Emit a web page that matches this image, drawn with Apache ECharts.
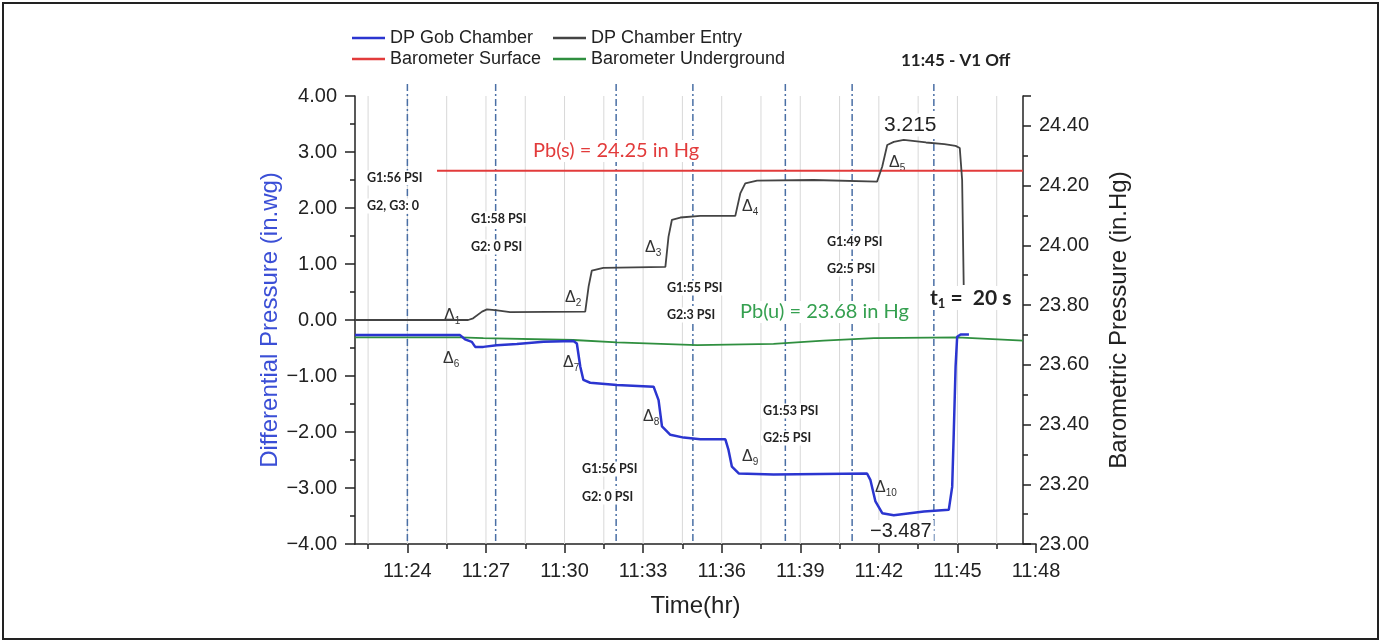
<!DOCTYPE html>
<html>
<head>
<meta charset="utf-8">
<script src="https://cdn.jsdelivr.net/npm/echarts@6/dist/echarts.min.js"></script>
<style>
html,body{margin:0;padding:0;background:#fff;}
#chart{width:1381px;height:641px;}
</style>
</head>
<body>
<div id="chart"></div>
<script>
// time is in minutes after 11:00
var entryTime = [22.0, 26.32, 26.51, 26.85, 27.04, 27.43, 27.92, 30.79, 30.92, 31.04, 31.48, 33.85, 33.97, 34.10, 34.42, 35.18, 36.52, 36.71, 36.90, 37.35, 39.5, 41.93, 42.13, 42.32, 42.57, 42.95, 43.8, 44.5, 44.93, 45.09, 45.18, 45.24]
var entryDP   = [0.0, 0.0, 0.03, 0.15, 0.19, 0.17, 0.14, 0.15, 0.6, 0.88, 0.93, 0.95, 1.49, 1.79, 1.83, 1.86, 1.86, 2.26, 2.44, 2.49, 2.5, 2.47, 2.74, 3.125, 3.18, 3.215, 3.17, 3.14, 3.11, 3.07, 2.5, 0.625]

var gobTime = [22.0, 26.01, 26.20, 26.46, 26.59, 26.90, 27.41, 28.18, 29.20, 30.34, 30.47, 30.60, 30.72, 30.98, 32.00, 33.40, 33.59, 33.72, 34.04, 34.55, 35.18, 36.14, 36.26, 36.39, 36.65, 37.98, 41.55, 41.68, 41.87, 42.13, 42.57, 43.72, 44.67, 44.80, 44.86, 44.93, 44.99, 45.12, 45.44]
var gobDP   = [-0.27, -0.27, -0.345, -0.39, -0.48, -0.48, -0.45, -0.43, -0.39, -0.375, -0.42, -0.83, -1.07, -1.12, -1.16, -1.19, -1.43, -1.9, -2.05, -2.10, -2.13, -2.13, -2.32, -2.62, -2.74, -2.76, -2.74, -2.86, -3.24, -3.45, -3.487, -3.42, -3.39, -2.98, -2.02, -0.83, -0.30, -0.26, -0.26]

var underTime = [22.0, 26.01, 26.9, 30.34, 32.0, 35.06, 37.98, 39.89, 41.81, 44.99, 47.5]
var underBaro = [23.692, 23.692, 23.689, 23.683, 23.675, 23.666, 23.670, 23.681, 23.689, 23.692, 23.681]

var surfaceTime = [25.13, 47.5]
var surfaceBaro = [24.25, 24.25]

var majorTicks = [24, 27, 30, 33, 36, 39, 42, 45, 48]
var minorTicks = [22.5, 25.5, 28.5, 31.5, 34.5, 37.5, 40.5, 43.5, 46.5]
var gridTimes = [22.5, 24, 25.5, 27, 28.5, 30, 31.5, 33, 34.5, 36, 37.5, 39, 40.5, 42, 43.5, 45, 46.5]
var eventTimes = [24.0, 27.37, 31.97, 34.9, 38.43, 40.98, 44.1]

function zip(a, b) { return a.map(function (v, i) { return [v, b[i]] }) }
function hhmm(v) { return '11:' + (v < 10 ? '0' : '') + Math.round(v) }
function num(v) { return (v < 0 ? '\u2212' : '') + Math.abs(v).toFixed(2) }

function vline(color, width, dash, extend) {
    return function (params, api) {
        var x = api.coord([api.value(0), 0])[0]
        var cs = params.coordSys
        return {
            type: 'line',
            shape: { x1: x, y1: cs.y - extend, x2: x, y2: cs.y + cs.height },
            style: { stroke: color, lineWidth: width, lineDash: dash },
            silent: true
        }
    }
}

var FONT = 'Liberation Sans, Arial, sans-serif'
var ink = '#222'

var legendBase = {
    padding: 0, icon: 'rect', itemWidth: 33, itemHeight: 2.5,
    textStyle: { fontSize: 18, color: ink, fontFamily: FONT }
}
function legendAt(name, left, top) {
    return Object.assign({}, legendBase, { data: [name], left: left, top: top })
}

// free text sits above the grid lines but under the data lines
function label(text, x, y, style) {
    return { type: 'text', x: x, y: y, z: 3, silent: true,
        style: Object.assign({ text: text, fill: ink, verticalAlign: 'middle',
            backgroundColor: '#fff', padding: [1, 2] }, style) }
}
function note(text, x, y) {
    return label(text, x - 2, y, { fontSize: 12.5, fontWeight: 'bold', fontFamily: 'Lato' })
}
function delta(sub, x, y) {
    return { type: 'text', x: x, y: y, z: 3, silent: true,
        style: { text: '{d|\u0394}{s|' + sub + '}', fill: '#333', verticalAlign: 'middle',
            rich: {
                d: { fontSize: 16, fontFamily: FONT, fill: '#333', lineHeight: 20 },
                s: { fontSize: 10, fontFamily: FONT, fill: '#333', lineHeight: 20, verticalAlign: 'bottom' }
            } } }
}

var chart = echarts.init(document.getElementById('chart'))

var option = {
    animation: false,
    backgroundColor: '#fff',
    textStyle: { fontFamily: FONT },
    legend: [
        legendAt('DP Gob Chamber', 352, 29),
        legendAt('DP Chamber Entry', 553, 29),
        legendAt('Barometer Surface', 352, 50),
        legendAt('Barometer Underground', 553, 50)
    ],
    grid: { left: 355, top: 96, right: 345, bottom: 97, containLabel: false },
    xAxis: [
        {
            type: 'value', min: 22, max: 48, position: 'bottom',
            axisLine: { onZero: false, lineStyle: { color: ink, width: 1.5 } },
            axisTick: { customValues: majorTicks, length: 9, lineStyle: { color: ink, width: 1.5 } },
            axisLabel: { customValues: majorTicks, formatter: hhmm, fontSize: 20, color: ink, margin: 17 },
            splitLine: { show: false },
            name: 'Time(hr)', nameLocation: 'middle', nameGap: 50,
            nameTextStyle: { fontSize: 24, color: ink }
        },
        {
            type: 'value', min: 22, max: 48, position: 'bottom',
            axisLine: { show: false, onZero: false },
            axisTick: { customValues: minorTicks, length: 5, lineStyle: { color: ink, width: 1.5 } },
            axisLabel: { show: false },
            splitLine: { show: false }
        }
    ],
    yAxis: [
        {
            type: 'value', min: -4, max: 4, interval: 1, position: 'left',
            axisLine: { show: true, onZero: false, lineStyle: { color: ink, width: 1.5 } },
            axisTick: { show: true, length: 10, lineStyle: { color: ink, width: 1.5 } },
            minorTick: { show: true, splitNumber: 2, length: 5, lineStyle: { color: ink, width: 1.5 } },
            axisLabel: { formatter: num, fontSize: 20, color: ink, margin: 18 },
            splitLine: { show: false },
            name: 'Differential Pressure (in.wg)', nameLocation: 'middle', nameGap: 73,
            nameTextStyle: { fontSize: 24, color: '#3b4fd6' }
        },
        {
            type: 'value', min: 23, max: 24.5, interval: 0.2, position: 'right', offset: -13,
            axisLine: { show: true, onZero: false, lineStyle: { color: ink, width: 1.5 } },
            axisTick: { show: true, length: 8, lineStyle: { color: ink, width: 1.5 } },
            minorTick: { show: true, splitNumber: 2, length: 5, lineStyle: { color: ink, width: 1.5 } },
            axisLabel: { formatter: num, fontSize: 20, color: ink, margin: 16, showMaxLabel: false },
            splitLine: { show: false },
            name: 'Barometric Pressure (in.Hg)', nameLocation: 'middle', nameGap: 84,
            nameTextStyle: { fontSize: 24, color: ink }
        }
    ],
    series: [
        {
            type: 'custom', name: 'grid', xAxisIndex: 0, yAxisIndex: 0, z: 1, silent: true,
            data: gridTimes.map(function (t) { return [t, 0] }),
            renderItem: vline('#d8d8d8', 1, null, 0)
        },
        {
            type: 'custom', name: 'events', xAxisIndex: 0, yAxisIndex: 0, z: 2, silent: true, clip: false,
            data: eventTimes.map(function (t) { return [t, 0] }),
            renderItem: vline('#4a6fa5', 1.5, [7, 3, 2, 3], 12)
        },
        {
            name: 'Barometer Surface', type: 'line', yAxisIndex: 1, showSymbol: false, z: 4,
            data: zip(surfaceTime, surfaceBaro),
            itemStyle: { color: '#e23b3b' }, lineStyle: { color: '#e23b3b', width: 2 }
        },
        {
            name: 'Barometer Underground', type: 'line', yAxisIndex: 1, showSymbol: false, z: 4,
            data: zip(underTime, underBaro),
            itemStyle: { color: '#2f8f3f' }, lineStyle: { color: '#2f8f3f', width: 1.8 }
        },
        {
            name: 'DP Chamber Entry', type: 'line', yAxisIndex: 0, showSymbol: false, z: 5,
            data: zip(entryTime, entryDP),
            itemStyle: { color: '#444' }, lineStyle: { color: '#444', width: 1.8 }
        },
        {
            name: 'DP Gob Chamber', type: 'line', yAxisIndex: 0, showSymbol: false, z: 6,
            data: zip(gobTime, gobDP),
            itemStyle: { color: '#2b35d0' }, lineStyle: { color: '#2b35d0', width: 2.5 }
        }
    ],
    graphic: [
        { type: 'rect', silent: true, shape: { x: 3, y: 3, width: 1375, height: 636 },
          style: { fill: 'none', stroke: ink, lineWidth: 2 } },
        label('11:45 - V1 Off', 899, 61, { fontSize: 17, fontWeight: 'bold', fontFamily: 'Lato' }),
        label('Pb(s) = 24.25 in Hg', 531, 151, { fill: '#e23b3b', fontSize: 20, fontFamily: 'Lato' }),
        label('Pb(u) = 23.68 in Hg', 738, 312, { fill: '#35a050', fontSize: 20, fontFamily: 'Lato' }),
        label('3.215', 882, 125, { fontSize: 21, fontFamily: FONT }),
        label('\u22123.487', 868, 531, { fontSize: 20, fontFamily: FONT }),
        { type: 'text', x: 928, y: 298, z: 3, silent: true,
          style: { text: '{t|t}{s|1}{t| =  20 s}', verticalAlign: 'middle', backgroundColor: '#fff', padding: [0, 2],
            rich: {
                t: { fontSize: 21, fontWeight: 'bold', fontFamily: 'Lato', fill: ink, lineHeight: 24 },
                s: { fontSize: 13, fontWeight: 'bold', fontFamily: 'Lato', fill: ink, lineHeight: 24, verticalAlign: 'bottom' }
            } } },
        note('G1:56 PSI', 367, 178), note('G2, G3: 0', 367, 206),
        note('G1:58 PSI', 471, 219), note('G2: 0 PSI', 471, 247),
        note('G1:55 PSI', 667, 288), note('G2:3 PSI', 667, 315),
        note('G1:49 PSI', 827, 242), note('G2:5 PSI', 827, 269),
        note('G1:53 PSI', 763, 411), note('G2:5 PSI', 763, 438),
        note('G1:56 PSI', 582, 469), note('G2: 0 PSI', 582, 497),
        delta('1', 444, 316), delta('6', 443, 359),
        delta('2', 565, 298), delta('7', 563, 363),
        delta('3', 645, 248), delta('8', 643, 417),
        delta('4', 742, 207), delta('9', 742, 457),
        delta('5', 889, 163), delta('10', 875, 488)
    ]
}

chart.setOption(option)
</script>
</body>
</html>
